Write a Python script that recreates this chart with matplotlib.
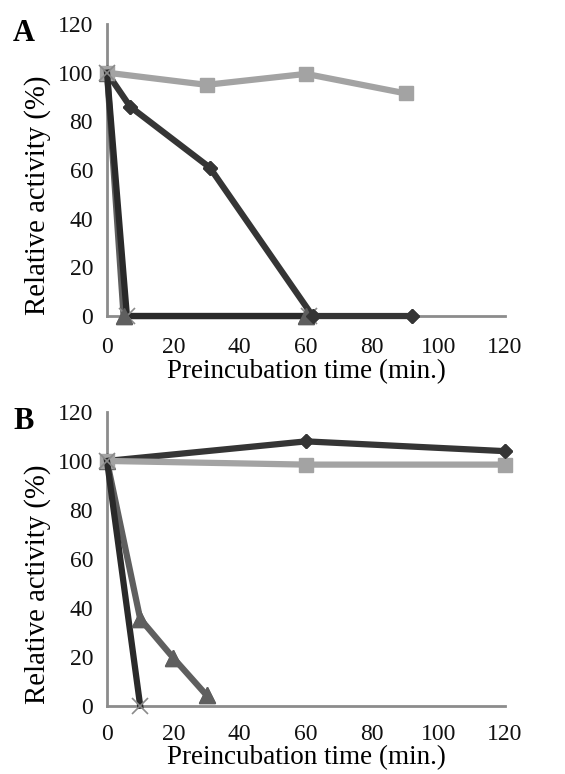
"""Relative activity vs preincubation time, panels A and B."""
import matplotlib
matplotlib.use("Agg")
import matplotlib.pyplot as plt

plt.rcParams["font.family"] = ["Liberation Serif", "DejaVu Serif"]

# Panel A
a_sq_x = [0, 30, 60, 90]
a_sq_y = [100, 95, 99.5, 91.5]
a_di_x = [0, 7, 31, 62, 92]
a_di_y = [100, 86, 61, 0, 0]
a_tr_x = [0, 5, 60]
a_tr_y = [100, 0, 0]
a_x_x = [0, 6, 61]
a_x_y = [100, 0, 0]

# Panel B
b_sq_x = [0, 60, 120]
b_sq_y = [100, 98.5, 98.5]
b_di_x = [0, 60, 120]
b_di_y = [100, 108, 104]
b_tr_x = [0, 10, 20, 30]
b_tr_y = [100, 35.5, 19.5, 4.3]
b_x_x = [0, 10]
b_x_y = [100, 0]

TICKS = [0, 20, 40, 60, 80, 100, 120]

C_SQ = "#a3a3a3"
C_TR = "#5f5f5f"
C_DI = "#353535"
C_X = "#2a2a2a"


def draw(ax, sq, di, tr, xx, letter, tpad=15, xpad=1):
    kw = dict(linewidth=4.5, clip_on=False)
    ax.plot(*tr, color=C_TR, marker="^", markersize=11, zorder=3, **kw)
    ax.plot(*di, color=C_DI, marker="D", markersize=7, zorder=4, **kw)
    ax.plot(*xx, color=C_X, marker="x", markersize=11, markeredgecolor="#8a8a8a",
            markeredgewidth=1.2, zorder=5, **kw)
    ax.plot(*sq, color=C_SQ, marker="s", markersize=10, zorder=4.5, **kw)
    # marqueurs foncés par-dessus le gris
    ax.plot(tr[0][1:], tr[1][1:], color=C_TR, marker="^", markersize=11,
            linestyle="none", zorder=6, clip_on=False)
    ax.plot(di[0][1:], di[1][1:], color=C_DI, marker="D", markersize=7,
            linestyle="none", zorder=6, clip_on=False)

    ax.set_xlim(0, 120)
    ax.set_ylim(0, 120)
    ax.set_xticks(TICKS)
    ax.set_yticks(TICKS)
    ax.tick_params(length=0, labelsize=17, colors="#111111")
    ax.tick_params(axis="x", pad=tpad)
    ax.tick_params(axis="y", pad=10)
    for s in ("top", "right"):
        ax.spines[s].set_visible(False)
    for s in ("left", "bottom"):
        ax.spines[s].set_color("#8c8c8c")
        ax.spines[s].set_linewidth(2)
    ax.set_xlabel("Preincubation time (min.)", fontsize=19.5, labelpad=xpad)
    ax.set_ylabel("Relative activity (%)", fontsize=20.7)
    ax.yaxis.set_label_coords(-0.14, 0.415)
    ax.text(-0.236, 1.016, letter, transform=ax.transAxes, fontsize=22,
            fontweight="bold", ha="left", va="top")


fig = plt.figure(figsize=(5.65, 7.74), dpi=100)
ax_a = fig.add_axes([0.1894, 0.5917, 0.7044, 0.3773])
ax_b = fig.add_axes([0.1894, 0.0883, 0.7044, 0.3794])

draw(ax_a, (a_sq_x, a_sq_y), (a_di_x, a_di_y), (a_tr_x, a_tr_y), (a_x_x, a_x_y), "A")
draw(ax_b, (b_sq_x, b_sq_y), (b_di_x, b_di_y), (b_tr_x, b_tr_y), (b_x_x, b_x_y), "B",
     tpad=13.5, xpad=0)

fig.savefig("out.png", dpi=100)
